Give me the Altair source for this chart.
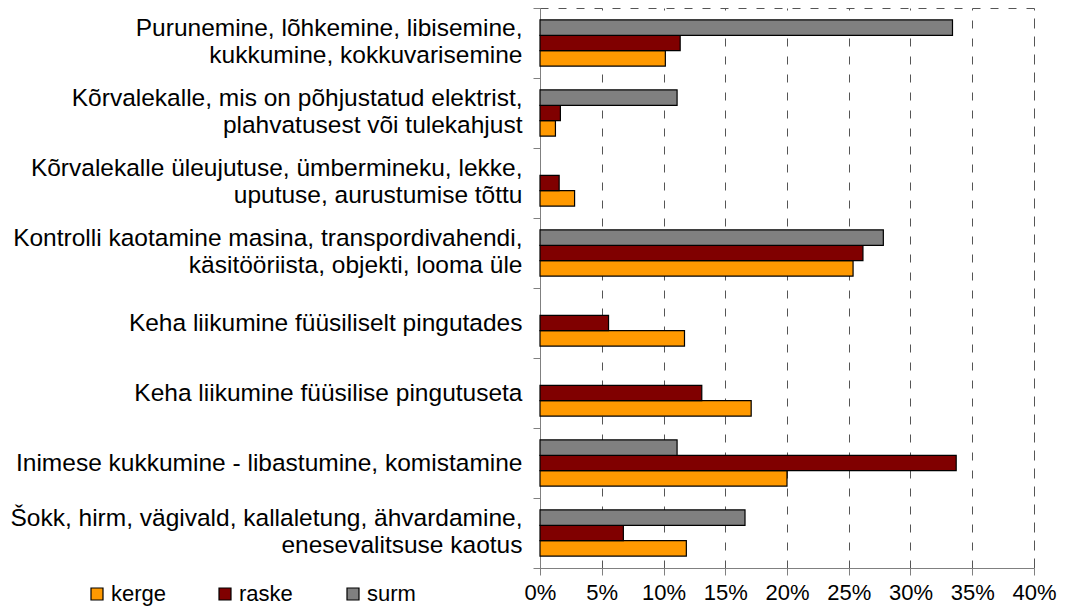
import altair as alt
import pandas as pd

categories = [
    "Purunemine, lõhkemine, libisemine,|kukkumine, kokkuvarisemine",
    "Kõrvalekalle, mis on põhjustatud elektrist,|plahvatusest või tulekahjust",
    "Kõrvalekalle üleujutuse, ümbermineku, lekke,|uputuse, aurustumise tõttu",
    "Kontrolli kaotamine masina, transpordivahendi,|käsitööriista, objekti, looma üle",
    "Keha liikumine füüsiliselt pingutades",
    "Keha liikumine füüsilise pingutuseta",
    "Inimese kukkumine - libastumine, komistamine",
    "Šokk, hirm, vägivald, kallaletung, ähvardamine,|enesevalitsuse kaotus",
]
series = ["kerge", "raske", "surm"]
colors = ["#FF9900", "#800000", "#808080"]
kerge = [10.15, 1.25, 2.8, 25.35, 11.7, 17.1, 20.0, 11.85]
raske = [11.35, 1.65, 1.55, 26.15, 5.55, 13.1, 33.7, 6.75]
surm = [33.4, 11.1, None, 27.8, None, None, 11.1, 16.6]
x_ticks = [0, 0.05, 0.10, 0.15, 0.20, 0.25, 0.30, 0.35, 0.40]

rows = []
for i, c in enumerate(categories):
    for s, vals in zip(series, (kerge, raske, surm)):
        if vals[i] is not None:
            rows.append({"kategooria": c, "liik": s, "osakaal": vals[i] / 100})
df = pd.DataFrame(rows)

FONT = "Liberation Sans"
FS = 22

chart = (
    alt.Chart(df)
    .mark_bar(stroke="black", strokeWidth=1.2)
    .encode(
        y=alt.Y(
            "kategooria:N",
            sort=categories,
            scale=alt.Scale(paddingInner=0, paddingOuter=0),
            axis=alt.Axis(
                title=None,
                labelExpr="split(datum.label, '|')",
                labelAlign="right",
                labelFont=FONT,
                labelFontSize=24.5,
                labelLineHeight=27.5,
                labelPadding=11,
                labelLimit=0,
                labelColor="black",
                labelOffset={
                    "condition": {"test": "indexof(datum.label, '|') >= 0", "value": -15},
                    "value": 0,
                },
                tickSize=7,
                tickBand="extent",
                tickColor="#808080",
                domainColor="#808080",
                grid=False,
            ),
        ),
        yOffset=alt.YOffset(
            "liik:N",
            sort=["surm", "raske", "kerge"],
            scale=alt.Scale(paddingInner=0, paddingOuter=0.78),
        ),
        x=alt.X(
            "osakaal:Q",
            scale=alt.Scale(domain=[0, 0.4], nice=False),
            axis=alt.Axis(
                title=None,
                format=".0%",
                values=x_ticks,
                grid=True,
                gridDash=[8, 10],
                gridColor="#555555",
                tickSize=7,
                tickColor="#808080",
                domainColor="#808080",
                labelFont=FONT,
                labelFontSize=FS,
                labelColor="black",
                labelPadding=7,
                labelFlush=False,
            ),
        ),
        color=alt.Color(
            "liik:N",
            scale=alt.Scale(domain=series, range=colors),
            legend=alt.Legend(
                title=None,
                orient="none",
                legendX=-454,
                legendY=575,
                direction="horizontal",
                symbolType="square",
                symbolSize=144,
                symbolStrokeColor="black",
                symbolStrokeWidth=1.2,
                labelFont=FONT,
                labelFontSize=FS,
                labelColor="black",
                labelOffset=3,
                columnPadding=47,
                gridAlign="all",
                padding=0,
            ),
        ),
    )
    .properties(
        width=494,
        height=560,
        autosize=alt.AutoSizeParams(type="none"),
        padding={"left": 532, "top": 0, "right": 23, "bottom": 40},
    )
    .configure_view(stroke="#555555", strokeDash=[8, 10], strokeWidth=1)
)

chart.save("out.html", embed_options={"renderer": "svg", "actions": False})
